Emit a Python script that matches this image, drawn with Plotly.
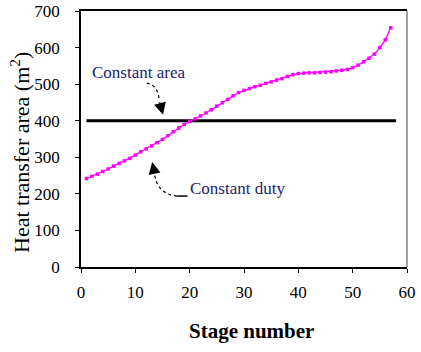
import plotly.graph_objects as go

stages = list(range(1, 58))
area_constant_duty = [242, 248, 254, 261, 268, 276, 283, 290, 297, 306,
                      315, 323, 331, 340, 349, 359, 370, 380, 390, 398,
                      405, 413, 421, 430, 440, 449, 458, 468, 477, 483,
                      488, 493, 497, 502, 506, 511, 515, 521, 526, 529,
                      530, 531, 531, 532, 533, 534, 536, 538, 540, 545,
                      552, 561, 571, 582, 600, 621, 654]
const_area_x = [1, 58]
const_area_y = [400, 400]
x_ticks = [0, 10, 20, 30, 40, 50, 60]
y_ticks = [0, 100, 200, 300, 400, 500, 600, 700]

FONT = "Liberation Serif, Times New Roman, serif"
NAVY = "#23236e"

fig = go.Figure()
fig.add_trace(go.Scatter(x=const_area_x, y=const_area_y, mode="lines",
                         line=dict(color="black", width=3), showlegend=False,
                         hoverinfo="skip"))
fig.add_trace(go.Scatter(x=stages, y=area_constant_duty, mode="lines+markers",
                         line=dict(color="#ff00ff", width=1.3),
                         marker=dict(color="#ff00ff", size=3.5, symbol="square"),
                         showlegend=False))

# dotted curved leaders
fig.add_shape(type="path", path="M 12.1,503 Q 14.2,497 14.4,455",
              line=dict(color="black", width=1.2, dash="dot"), xref="x", yref="y")
fig.add_shape(type="path", path="M 17.7,194 Q 13.8,200 13.5,260",
              line=dict(color="black", width=1.2, dash="dot"), xref="x", yref="y")
fig.add_shape(type="line", x0=17.7, x1=19.6, y0=194, y1=194,
              line=dict(color="black", width=1.5), xref="x", yref="y")

# arrow heads
fig.add_annotation(x=15.1, y=416, ax=14.4, ay=455, axref="x", ayref="y",
                   showarrow=True, arrowhead=2, arrowsize=2, arrowwidth=1.2,
                   arrowcolor="black", text="")
fig.add_annotation(x=13.1, y=287, ax=13.5, ay=258, axref="x", ayref="y",
                   showarrow=True, arrowhead=2, arrowsize=2, arrowwidth=1.2,
                   arrowcolor="black", text="")

fig.add_annotation(x=1.6, y=533, xanchor="left", yanchor="middle", showarrow=False,
                   text="Constant area", font=dict(family=FONT, size=17, color=NAVY))
fig.add_annotation(x=19.7, y=216, xanchor="left", yanchor="middle", showarrow=False,
                   text="Constant duty", font=dict(family=FONT, size=17, color=NAVY))

# axis titles
fig.add_annotation(xref="paper", yref="paper", x=(251 - 81) / 326, y=(267 - 331) / 256,
                   xanchor="center", yanchor="middle", showarrow=False,
                   text="<b>Stage number</b>",
                   font=dict(family=FONT, size=21, color="black"))
fig.add_annotation(xref="paper", yref="paper", x=(20 - 81) / 326, y=(267 - 153) / 256,
                   xanchor="center", yanchor="middle", showarrow=False, textangle=-90,
                   text="Heat transfer area (m<sup>2</sup>)",
                   font=dict(family=FONT, size=22, color="black"))

# right border (grey)
fig.add_shape(type="line", xref="paper", yref="paper", x0=1, x1=1, y0=0, y1=1,
              line=dict(color="#808080", width=1.5))

fig.update_xaxes(range=[0, 60], tickvals=x_ticks, ticks="outside", ticklen=4,
                 tickcolor="black", showline=True, linecolor="black", linewidth=1.5,
                 mirror=True, showgrid=False, zeroline=False, automargin=False,
                 ticklabeloverflow="allow",
                 tickfont=dict(family=FONT, size=17, color="black"),
                 ticklabelstandoff=5)
fig.update_yaxes(range=[0, 700], tickvals=y_ticks, ticks="outside", ticklen=4,
                 tickcolor="black", showline=True, linecolor="black", linewidth=1.5,
                 showgrid=False, zeroline=False, automargin=False,
                 ticklabeloverflow="allow",
                 tickfont=dict(family=FONT, size=17, color="black"),
                 ticklabelstandoff=12)

fig.update_layout(width=421, height=352, plot_bgcolor="white", paper_bgcolor="white",
                  margin=dict(l=81, r=14, t=11, b=85, autoexpand=False),
                  font=dict(family=FONT))

fig.write_html("out.html", config={"displayModeBar": False},
               post_script="document.body.style.margin='0px';")
